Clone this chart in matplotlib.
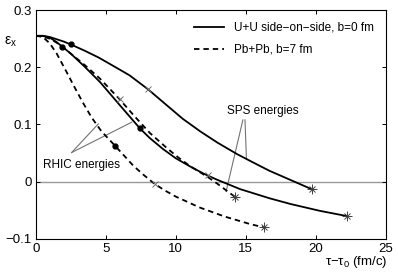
import matplotlib
matplotlib.use("Agg")
import matplotlib.pyplot as plt

plt.rcParams['font.family'] = ['Liberation Sans', 'DejaVu Sans']
plt.rcParams['mathtext.fontset'] = 'custom'
plt.rcParams['mathtext.rm'] = 'Liberation Sans'
plt.rcParams['mathtext.it'] = 'Liberation Sans:italic'

# U+U side-on-side, b=0 fm, SPS energies (upper solid)
uu_sps_t = [0, 0.5, 1, 1.5, 2, 2.5, 3.5, 4.5, 5.5, 6.7, 8, 9.2, 10.5, 11.75, 13, 14.4, 15.5, 16.7, 18.2, 19.7]
uu_sps_e = [0.255, 0.255, 0.253, 0.249, 0.245, 0.240, 0.229, 0.217, 0.203, 0.186, 0.162, 0.137, 0.110,
            0.088, 0.068, 0.048, 0.034, 0.019, 0.003, -0.013]
# U+U side-on-side, b=0 fm, RHIC energies (lower solid)
uu_rhic_t = [0, 0.5, 1, 1.5, 1.85, 2.5, 3.5, 4.6, 6, 7.45, 8.16, 9.1, 10, 11, 12, 12.9, 14.6, 16.7, 18.2, 20.3, 22.2]
uu_rhic_e = [0.255, 0.255, 0.252, 0.244, 0.237, 0.224, 0.201, 0.174, 0.134, 0.093, 0.076, 0.057, 0.041,
             0.027, 0.014, 0.004, -0.013, -0.029, -0.039, -0.051, -0.060]
# Pb+Pb, b=7 fm, SPS energies (dashed, right)
pb_sps_t = [0, 0.5, 1, 1.5, 1.9, 2.5, 3.5, 4.6, 6.0, 7, 8.16, 9.36, 10.2, 11.1, 12.3, 13.0, 13.6, 14.2]
pb_sps_e = [0.255, 0.254, 0.250, 0.243, 0.236, 0.224, 0.204, 0.180, 0.144, 0.116, 0.085, 0.059, 0.042,
            0.026, 0.008, -0.004, -0.015, -0.026]
# Pb+Pb, b=7 fm, RHIC energies (dashed, left)
pb_rhic_t = [0, 0.3, 0.6, 1, 1.5, 2.2, 2.8, 3.4, 4.0, 4.7, 5.66, 6.97, 7.7, 8.5, 9.2, 10, 11.7, 13.5, 15.3, 16.3]
pb_rhic_e = [0.255, 0.254, 0.251, 0.242, 0.224, 0.192, 0.164, 0.137, 0.112, 0.088, 0.063, 0.028, 0.012,
             -0.004, -0.015, -0.026, -0.045, -0.061, -0.074, -0.080]

# markers
dot_t = [2.5, 1.9, 7.45, 5.66]
dot_e = [0.240, 0.236, 0.093, 0.063]
cross_t = [8.0, 6.0, 8.5, 12.3]
cross_e = [0.162, 0.144, -0.004, 0.011]
star_t = [19.7, 22.2, 14.2, 16.3]
star_e = [-0.013, -0.060, -0.026, -0.080]

xticks = [0, 5, 10, 15, 20, 25]
yticks = [-0.1, 0, 0.1, 0.2, 0.3]
legend_labels = ['U+U side\u2212on\u2212side, b=0 fm', 'Pb+Pb, b=7 fm']

fig = plt.figure(figsize=(3.98, 2.73), dpi=100)
ax = fig.add_axes([0.0897, 0.125, 0.8794, 0.838])

ax.axhline(0, color='0.6', lw=1.0, zorder=1)

lw = 1.3
l1, = ax.plot(uu_sps_t, uu_sps_e, color='k', lw=lw, zorder=3)
ax.plot(uu_rhic_t, uu_rhic_e, color='k', lw=lw, zorder=3)
l2, = ax.plot(pb_sps_t, pb_sps_e, color='k', lw=lw, ls=(0, (3, 2.2)), zorder=3)
ax.plot(pb_rhic_t, pb_rhic_e, color='k', lw=lw, ls=(0, (3, 2.2)), zorder=3)

ax.plot(dot_t, dot_e, ls='none', marker='o', ms=3.5, color='k', zorder=4)
ax.plot(cross_t, cross_e, ls='none', marker='x', ms=4.5, mew=0.7, color='0.45', zorder=4)
ax.plot(star_t, star_e, ls='none', marker='+', ms=7, mew=0.7, color='0.25', zorder=4)
ax.plot(star_t, star_e, ls='none', marker='x', ms=5, mew=0.7, color='0.25', zorder=4)

# annotation lines
ann_col = '0.45'
ax.plot([14.8, 13.6], [0.108, -0.017], color=ann_col, lw=0.8, zorder=2)
ax.plot([14.95, 15.05], [0.108, 0.041], color=ann_col, lw=0.8, zorder=2)
ax.plot([2.57, 4.47], [0.051, 0.101], color=ann_col, lw=0.8, zorder=2)
ax.plot([2.57, 6.86], [0.051, 0.104], color=ann_col, lw=0.8, zorder=2)

ax.text(16.2, 0.124, 'SPS energies', fontsize=8.5, ha='center', va='center')
ax.text(3.3, 0.029, 'RHIC energies', fontsize=8.5, ha='center', va='center')

ax.set_xlim(0, 25)
ax.set_ylim(-0.1, 0.3)
ax.set_xticks(xticks)
ax.set_yticks(yticks)
ax.set_xticklabels([str(v) for v in xticks])
ax.set_yticklabels(['\u22120.1', '0', '0.1', '0.2', '0.3'])
ax.tick_params(direction='in', top=True, right=True, length=3, width=0.7, labelsize=9.5, pad=3)
for s in ax.spines.values():
    s.set_linewidth(0.8)

ax.text(1.005, -0.1, '\u03c4\u2212\u03c4$_0$ (fm/c)', transform=ax.transAxes, fontsize=9.5,
        ha='right', va='center')
ax.text(-0.072, 0.86, '\u03b5$_\\mathrm{x}$', transform=ax.transAxes, fontsize=10,
        ha='center', va='center')

leg = ax.legend([l1, l2], legend_labels, loc='upper right', bbox_to_anchor=(1.0, 1.0),
                frameon=False, fontsize=8.5, handlelength=2.6, handletextpad=0.8,
                labelspacing=0.85, borderaxespad=0.6)

fig.savefig('out.png', dpi=100)
